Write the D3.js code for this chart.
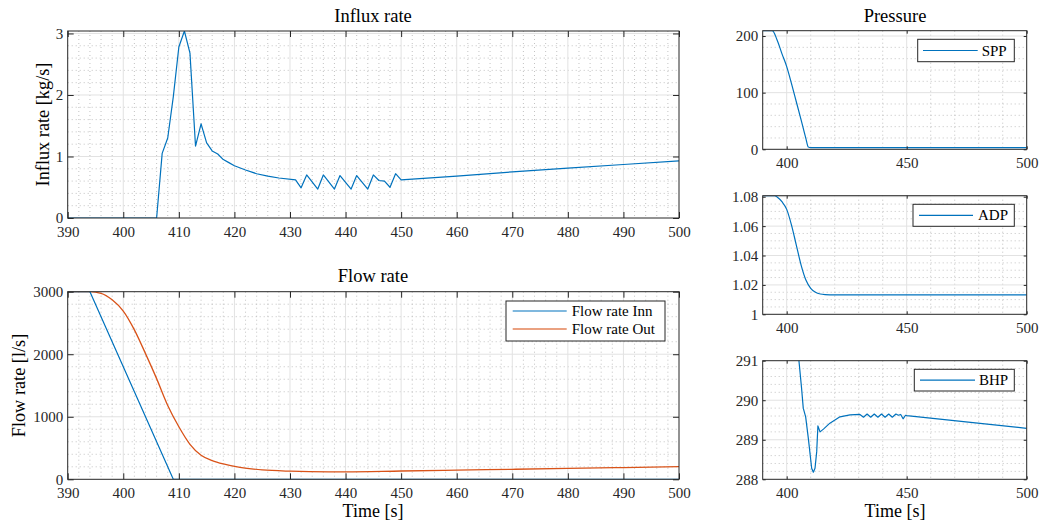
<!DOCTYPE html>
<html><head><meta charset="utf-8">
<script src="https://cdn.jsdelivr.net/npm/d3@7"></script>
<style>
html,body{margin:0;padding:0;background:#fff;}
svg{display:block;font-family:"Liberation Serif","Times New Roman",serif;}
svg text{font-family:"Liberation Serif","Times New Roman",serif !important;}
</style></head>
<body>
<svg id="chart" width="1042" height="522"></svg>
<script>
// ---------------- data ----------------
const influxT = [390, 406, 407, 408, 409, 410, 411, 412, 413, 414, 415, 416, 417, 418, 419, 420, 422, 424, 426, 428, 431, 432, 433, 435, 436, 438, 439, 441, 442, 444, 445, 446, 447, 448, 449, 450, 460, 470, 480, 490, 500];
const influxV = [0, 0, 1.05, 1.30, 1.97, 2.78, 3.04, 2.68, 1.17, 1.53, 1.22, 1.09, 1.04, 0.95, 0.90, 0.85, 0.78, 0.72, 0.68, 0.65, 0.62, 0.49, 0.70, 0.47, 0.70, 0.47, 0.69, 0.47, 0.69, 0.47, 0.70, 0.61, 0.60, 0.50, 0.72, 0.62, 0.68, 0.75, 0.81, 0.87, 0.93];

const flowInnT = [390, 394, 409, 500];
const flowInnV = [3000, 3000, 0, 0];
const flowOutT = [390, 394, 396, 398, 400, 402, 404, 406, 408, 410, 412, 414, 416, 418, 421, 425, 430, 437, 440, 450, 460, 470, 480, 490, 500];
const flowOutV = [3000, 3000, 2975, 2870, 2690, 2390, 2010, 1610, 1180, 840, 560, 385, 300, 245, 190, 150, 130, 120, 120, 133, 146, 160, 174, 188, 202];

const sppT = [390, 394, 396, 398, 400, 402, 404, 406, 408, 409, 410, 500];
const sppV = [209.4, 209.4, 193, 169, 146, 116, 84, 52, 19, 4, 3, 3];

const adpT = [390, 395, 396, 398, 400, 402, 404, 406, 408, 410, 412, 414, 416, 420, 500];
const adpV = [1.0807, 1.0807, 1.0798, 1.0766, 1.0714, 1.0607, 1.0471, 1.0335, 1.0233, 1.0177, 1.0150, 1.0138, 1.0134, 1.0132, 1.0132];

const bhpT = [390, 400, 404, 405.1, 406.2, 406.9, 407.9, 409, 410.4, 411.1, 411.8, 412.5, 413, 413.9, 415.3, 418, 422.2, 426.4, 430.5, 432, 433.5, 435, 436.5, 438, 439.5, 441, 442.5, 444, 445.5, 446.5, 447.5, 448.5, 449.5, 450, 500];
const bhpV = [300, 295, 291.6, 291, 290.3, 289.8, 289.58, 289.04, 288.28, 288.18, 288.28, 288.7, 289.35, 289.2, 289.27, 289.42, 289.58, 289.63, 289.64, 289.57, 289.65, 289.57, 289.65, 289.57, 289.65, 289.57, 289.65, 289.57, 289.65, 289.62, 289.64, 289.53, 289.62, 289.61, 289.29];

// tick labels
const xTicksWide = [390, 400, 410, 420, 430, 440, 450, 460, 470, 480, 490, 500];
const xTicksNarrow = [400, 450, 500];
const influxYTicks = [0, 1, 2, 3];
const flowYTicks = [0, 1000, 2000, 3000];
const sppYTicks = [0, 100, 200];
const adpYTicks = [1, 1.02, 1.04, 1.06, 1.08];
const bhpYTicks = [288, 289, 290, 291];

const titles = ["Influx rate", "Flow rate", "Pressure"];
const yLabels = ["Influx rate [kg/s]", "Flow rate [l/s]"];
const xLabel = "Time [s]";
const legendFlow = ["Flow rate Inn", "Flow rate Out"];

// ---------------- drawing ----------------
const BLUE = "#0072BD", ORANGE = "#D95319", AX = "#262626";
const FONT = '"Liberation Serif","Times New Roman",serif';
const svg = d3.select("#chart");
const toPts = (T, V) => T.map((t, i) => [t, V[i]]);
let clipId = 0;

function range(a, b, s) { const r = []; for (let v = a; v <= b + 1e-9; v += s) r.push(+v.toFixed(6)); return r; }

function panel(c) {
  const x = d3.scaleLinear().domain([390, 500]).range([c.l, c.r]);
  const y = d3.scaleLinear().domain(c.yDom).range([c.b, c.t]);
  const g = svg.append("g");
  // minor grid
  const xm = range(390, 500, c.xMinor).filter(v => !c.xTicks.includes(v) && v > 390 && v < 500);
  const ym = range(c.yDom[0], c.yDom[1], c.yMinor).filter(v => !c.yTicks.some(t => Math.abs(t - v) < 1e-9) && v > c.yDom[0]);
  g.selectAll(null).data(xm).enter().append("line")
    .attr("x1", d => x(d)).attr("x2", d => x(d)).attr("y1", c.t).attr("y2", c.b)
    .attr("stroke", "#b4b4b4").attr("stroke-width", 0.8).attr("stroke-dasharray", "1,3");
  g.selectAll(null).data(ym).enter().append("line")
    .attr("x1", c.l).attr("x2", c.r).attr("y1", d => y(d)).attr("y2", d => y(d))
    .attr("stroke", "#b4b4b4").attr("stroke-width", 0.8).attr("stroke-dasharray", "1,3");
  // major grid
  g.selectAll(null).data(c.xTicks.filter(v => v > 390 && v < 500)).enter().append("line")
    .attr("x1", d => x(d)).attr("x2", d => x(d)).attr("y1", c.t).attr("y2", c.b)
    .attr("stroke", "#e2e2e2").attr("stroke-width", 1);
  g.selectAll(null).data(c.yTicks.filter(v => v > c.yDom[0] && v < c.yDom[1])).enter().append("line")
    .attr("x1", c.l).attr("x2", c.r).attr("y1", d => y(d)).attr("y2", d => y(d))
    .attr("stroke", "#e2e2e2").attr("stroke-width", 1);
  // clip
  const id = "clip" + (clipId++);
  svg.append("clipPath").attr("id", id).append("rect")
    .attr("x", c.l).attr("y", c.t).attr("width", c.r - c.l).attr("height", c.b - c.t);
  const lines = g.append("g").attr("clip-path", `url(#${id})`);
  c.series.forEach(s => {
    const gen = d3.line().x(d => x(d[0])).y(d => y(d[1])).curve(s.smooth ? d3.curveMonotoneX : d3.curveLinear);
    lines.append("path").attr("d", gen(s.pts)).attr("fill", "none")
      .attr("stroke", s.color).attr("stroke-width", s.w || 1.2).attr("stroke-linejoin", "round");
  });
  // axes
  const tl = c.tickLen;
  const fmt = c.yFmt || (d => d);
  const ax = g.append("g").attr("transform", `translate(0,${c.b})`)
    .call(d3.axisBottom(x).tickValues(c.xTicks).tickSizeInner(-tl).tickSizeOuter(0));
  ax.selectAll("text").attr("y", 18.5).attr("dy", null);
  g.append("g").attr("transform", `translate(0,${c.t})`)
    .call(d3.axisTop(x).tickValues(c.xTicks).tickSizeInner(-tl).tickSizeOuter(0).tickFormat(""));
  const ay = g.append("g").attr("transform", `translate(${c.l},0)`)
    .call(d3.axisLeft(y).tickValues(c.yTicks).tickSizeInner(-tl).tickSizeOuter(0).tickFormat(fmt));
  ay.selectAll("text").attr("x", -4.5).attr("dy", "0.33em");
  g.append("g").attr("transform", `translate(${c.r},0)`)
    .call(d3.axisRight(y).tickValues(c.yTicks).tickSizeInner(-tl).tickSizeOuter(0).tickFormat(""));
  g.selectAll("g").attr("font-family", null).attr("font-size", null);
  g.selectAll("g").style("font-family", FONT);
  g.selectAll(".domain").remove();
  g.selectAll(".tick line").attr("stroke", AX).attr("stroke-width", 1);
  g.selectAll(".tick text").attr("fill", AX).style("font-family", FONT).style("font-size", "15px");
  g.append("rect").attr("x", c.l).attr("y", c.t).attr("width", c.r - c.l).attr("height", c.b - c.t)
    .attr("fill", "none").attr("stroke", AX).attr("stroke-width", 1);
  // legend
  if (c.legend) {
    const L = c.legend;
    const lg = g.append("g");
    lg.append("rect").attr("x", L.x0).attr("y", L.y0).attr("width", L.x1 - L.x0).attr("height", L.y1 - L.y0)
      .attr("fill", "#fff").attr("stroke", AX).attr("stroke-width", 1);
    L.items.forEach((it, i) => {
      const yy = L.rows[i];
      lg.append("line").attr("x1", L.lx0).attr("x2", L.lx1).attr("y1", yy).attr("y2", yy)
        .attr("stroke", it.color).attr("stroke-width", it.w || 1.2).attr("stroke-opacity", it.op || 1);
      lg.append("text").attr("x", L.tx).attr("y", yy + 5).style("font-size", "15px").attr("fill", "#000").text(it.label);
    });
  }
  return { x, y, g };
}

// Influx rate
panel({ l: 67.7, r: 679, t: 31, b: 218, yDom: [0, 3.04], xTicks: xTicksWide, yTicks: influxYTicks,
  xMinor: 2, yMinor: 0.2, tickLen: 6,
  series: [{ pts: toPts(influxT, influxV), color: BLUE, w: 1.2 }] });

// Flow rate
panel({ l: 67.7, r: 679, t: 291.7, b: 479.3, yDom: [0, 3000], xTicks: xTicksWide, yTicks: flowYTicks,
  xMinor: 2, yMinor: 200, tickLen: 6,
  series: [{ pts: toPts(flowOutT, flowOutV), color: ORANGE, w: 1.3, smooth: true },
           { pts: toPts(flowInnT, flowInnV), color: BLUE, w: 1.2 }],
  legend: { x0: 506, x1: 665, y0: 301, y1: 341, lx0: 512.7, lx1: 566.7, tx: 571.7, rows: [311, 329],
    items: [{ label: legendFlow[0], color: BLUE }, { label: legendFlow[1], color: ORANGE, w: 2, op: 0.55 }] } });

// SPP
panel({ l: 762.7, r: 1026.7, t: 30.7, b: 149.3, yDom: [0, 209.4], xTicks: xTicksNarrow, yTicks: sppYTicks,
  xMinor: 10, yMinor: 20, tickLen: 3,
  series: [{ pts: toPts(sppT, sppV), color: BLUE, w: 1.2, smooth: true }],
  legend: { x0: 917.7, x1: 1014.3, y0: 39.3, y1: 61.7, lx0: 923, lx1: 977.7, tx: 981.7, rows: [50.5],
    items: [{ label: "SPP", color: BLUE }] } });

// ADP
panel({ l: 762.7, r: 1026.7, t: 195.7, b: 314.3, yDom: [1, 1.0807], xTicks: xTicksNarrow, yTicks: adpYTicks,
  xMinor: 10, yMinor: 0.005, tickLen: 3, yFmt: d => (d === 1 ? "1" : d.toFixed(2)),
  series: [{ pts: toPts(adpT, adpV), color: BLUE, w: 1.2, smooth: true }],
  legend: { x0: 913, x1: 1014.3, y0: 204.3, y1: 226.3, lx0: 919, lx1: 973, tx: 978, rows: [215.3],
    items: [{ label: "ADP", color: BLUE }] } });

// BHP
panel({ l: 762.7, r: 1026.7, t: 360.7, b: 479.3, yDom: [288, 291], xTicks: xTicksNarrow, yTicks: bhpYTicks,
  xMinor: 10, yMinor: 0.2, tickLen: 3,
  series: [{ pts: toPts(bhpT, bhpV), color: BLUE, w: 1.2 }],
  legend: { x0: 914.3, x1: 1014.3, y0: 369.3, y1: 391, lx0: 920, lx1: 975, tx: 979, rows: [380.2],
    items: [{ label: "BHP", color: BLUE }] } });

// titles and labels
const txt = (x, y, s, size, rot) => {
  const t = svg.append("text").attr("x", x).attr("y", y).attr("text-anchor", "middle")
    .style("font-size", size + "px").attr("fill", "#000").text(s);
  if (rot) t.attr("transform", `rotate(-90,${x},${y})`);
};
txt(373, 22, titles[0], 18.5);
txt(373, 282.3, titles[1], 18.5);
txt(895, 22, titles[2], 18.5);
txt(48.5, 124.5, yLabels[0], 18.3, true);
txt(25, 385.5, yLabels[1], 18.3, true);
txt(373, 517, xLabel, 18);
txt(895, 517, xLabel, 18);
</script>
</body></html>
